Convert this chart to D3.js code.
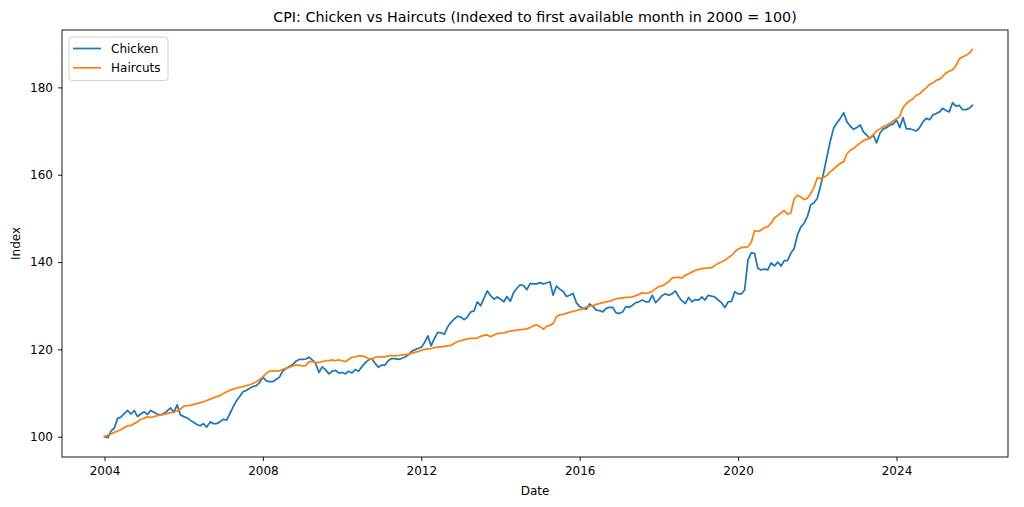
<!DOCTYPE html>
<html>
<head>
<meta charset="utf-8">
<script src="https://cdn.jsdelivr.net/npm/d3@7"></script>
<style>
  html, body { margin: 0; padding: 0; background: #fff; }
  svg { display: block; font-family: "DejaVu Sans", sans-serif; }
</style>
</head>
<body>
<svg id="chart" width="1024" height="507"></svg>
<script>
// ---- data (monthly, starting January 2004) ----
const startMonth = "2004-01";
const seriesNames = ["Chicken", "Haircuts"];
const chicken = [
100.0,99.8,101.3,102.0,104.2,104.5,105.3,106.0,105.2,106.0,104.6,105.2,
105.7,105.1,106.0,105.6,105.2,105.0,105.3,105.9,106.6,105.6,107.3,105.0,
104.6,104.3,103.8,103.3,102.8,102.5,103.0,102.2,103.4,103.0,103.0,103.4,
104.0,103.8,105.2,106.8,108.2,109.2,110.3,110.6,111.1,111.5,111.7,112.4,
113.6,112.8,112.6,112.6,113.1,113.6,115.0,115.6,116.1,116.5,117.3,117.7,
117.7,117.8,118.2,117.6,116.8,114.7,116.0,115.3,114.4,115.0,115.2,114.6,
114.7,114.4,115.0,114.6,115.4,115.0,116.0,116.9,117.6,117.9,116.8,115.9,
116.4,116.4,117.4,117.9,117.9,117.7,117.9,118.2,118.7,119.5,119.9,120.2,
120.5,121.6,123.1,120.8,122.5,123.9,123.8,123.5,125.2,126.2,127.0,127.6,
127.4,126.8,127.4,128.6,128.8,130.9,130.0,131.7,133.4,132.3,131.5,132.0,
131.5,130.9,132.1,131.0,133.0,134.0,134.8,134.6,133.7,135.1,135.0,135.0,
135.3,135.0,135.2,135.5,132.4,134.5,133.8,133.3,132.1,132.4,132.8,130.7,
129.8,129.4,129.2,130.4,129.9,129.0,128.9,128.6,129.4,129.6,129.6,128.4,
128.2,128.6,129.8,129.6,130.1,130.7,130.9,131.3,130.9,130.9,132.4,130.7,
131.5,132.4,132.7,132.4,132.7,133.4,132.1,131.1,130.5,131.9,130.9,131.4,
131.3,132.0,131.3,132.4,132.2,132.0,131.3,130.7,129.6,130.9,131.0,133.2,
132.7,132.7,133.6,140.5,142.1,142.0,138.6,138.2,138.4,138.2,139.8,139.1,
140.0,139.1,140.3,140.3,142.0,143.1,146.2,148.0,148.9,150.4,153.1,153.6,
154.6,157.6,160.6,164.3,167.8,170.7,171.9,172.9,174.2,172.1,171.1,170.4,
170.8,171.4,169.8,169.1,168.3,169.1,167.3,169.5,170.5,170.8,171.4,171.6,
172.5,170.8,173.1,170.5,170.5,170.3,170.0,170.8,172.1,172.9,172.6,173.7,
174.0,174.4,175.2,174.7,174.4,176.5,175.7,175.9,174.9,174.9,175.2,175.9
];
const haircuts = [
100.0,100.4,100.6,101.0,101.3,101.6,102.1,102.5,102.6,103.0,103.4,104.0,
104.2,104.6,104.4,104.6,104.8,105.0,105.1,105.3,105.5,105.6,105.9,106.3,
107.0,107.1,107.2,107.4,107.6,107.8,108.0,108.3,108.6,108.9,109.2,109.4,
109.9,110.3,110.6,110.9,111.1,111.3,111.5,111.7,111.9,112.2,112.6,113.1,
113.7,114.5,115.0,115.0,115.1,115.1,115.4,115.7,115.9,116.2,116.4,116.4,
116.2,116.3,117.2,117.2,117.0,117.0,117.2,117.4,117.4,117.6,117.4,117.6,
117.4,117.2,117.7,118.2,118.3,118.5,118.5,118.3,117.9,117.7,118.2,118.3,
118.3,118.3,118.5,118.6,118.5,118.6,118.7,118.8,118.9,119.1,119.3,119.5,
119.8,120.0,120.1,120.2,120.4,120.5,120.6,120.7,120.8,120.9,121.4,121.8,
122.0,122.2,122.4,122.5,122.5,122.6,123.0,123.2,123.3,122.9,123.3,123.6,
123.7,123.8,124.0,124.2,124.3,124.4,124.5,124.6,124.7,125.0,125.4,125.6,
125.2,124.6,125.3,125.5,125.9,127.5,127.9,128.0,128.3,128.5,128.7,128.9,
129.1,129.3,129.7,129.9,130.0,130.3,130.5,130.7,130.9,131.0,131.3,131.6,
131.7,131.8,131.9,131.9,132.0,132.3,132.6,133.0,132.8,133.0,133.3,133.9,
134.4,134.6,135.0,135.5,136.3,136.5,136.5,136.3,137.0,137.3,137.7,138.1,
138.3,138.5,138.6,138.6,138.7,139.2,139.7,140.0,140.4,141.0,141.5,142.3,
143.0,143.3,143.4,143.5,144.5,147.2,147.0,147.3,147.9,148.1,148.9,150.1,
150.7,151.3,151.8,151.0,151.2,154.5,155.3,154.9,154.3,154.6,155.7,157.1,
159.3,159.1,159.4,159.9,160.7,161.3,162.0,162.6,163.0,164.8,165.6,166.0,
166.7,167.3,167.8,168.1,168.5,169.2,170.0,170.5,171.0,171.3,171.7,172.3,
172.8,173.4,175.4,176.3,176.9,177.4,178.2,178.5,179.3,179.9,180.7,181.0,
181.6,181.9,182.5,183.3,183.7,184.0,184.9,186.5,187.0,187.3,187.8,188.7
];
const yTicks = [100, 120, 140, 160, 180];
const xTickYears = [2004, 2008, 2012, 2016, 2020, 2024];
const colors = ["#1f77b4", "#ff7f0e"];
const titleText = "CPI: Chicken vs Haircuts (Indexed to first available month in 2000 = 100)";
const xLabel = "Date";
const yLabel = "Index";

// ---- layout ----
const W = 1024, H = 507;
const plot = { left: 62, right: 1008, top: 30, bottom: 457 };

const parseMonth = d3.timeParse("%Y-%m");
const start = parseMonth(startMonth);
const dates = chicken.map((_, i) => d3.timeMonth.offset(start, i));
const data = seriesNames.map((name, k) => ({
  name,
  color: colors[k],
  values: (k === 0 ? chicken : haircuts).map((v, i) => ({ date: dates[i], value: v }))
}));

// x domain: anchor the first and last tick years to their positions in the frame
const tA = new Date(xTickYears[0], 0, 1), tB = new Date(xTickYears[xTickYears.length - 1], 0, 1);
const anchor = d3.scaleTime().domain([tA, tB]).range([104.5, 896.5]);
const x = d3.scaleTime()
  .domain([anchor.invert(plot.left), anchor.invert(plot.right)])
  .range([plot.left, plot.right]);
const allVals = chicken.concat(haircuts);
const vMin = d3.min(allVals), vMax = d3.max(allVals);
const vPad = (vMax - vMin) * 0.05;
const y = d3.scaleLinear()
  .domain([vMin - vPad, vMax + vPad])
  .range([plot.bottom, plot.top]);

const svg = d3.select("#chart");
svg.append("rect").attr("width", W).attr("height", H).attr("fill", "#fff");

// lines
const line = d3.line().x(d => x(d.date)).y(d => y(d.value));
svg.append("clipPath").attr("id", "clip").append("rect")
  .attr("x", plot.left).attr("y", plot.top)
  .attr("width", plot.right - plot.left).attr("height", plot.bottom - plot.top);
svg.append("g").attr("clip-path", "url(#clip)")
  .selectAll("path").data(data).join("path")
  .attr("d", d => line(d.values))
  .attr("fill", "none")
  .attr("stroke", d => d.color)
  .attr("stroke-width", 1.75)
  .attr("stroke-linejoin", "round")
  .attr("stroke-linecap", "square");

// axes
const xAxis = d3.axisBottom(x)
  .tickValues(xTickYears.map(yr => new Date(yr, 0, 1)))
  .tickFormat(d3.timeFormat("%Y"))
  .tickSizeOuter(0).tickSize(4).tickPadding(5);
const gx = svg.append("g").attr("transform", `translate(0,${plot.bottom})`).call(xAxis);
const yAxis = d3.axisLeft(y).tickValues(yTicks).tickSizeOuter(0).tickSize(4).tickPadding(5);
const gy = svg.append("g").attr("transform", `translate(${plot.left},0)`).call(yAxis);
[gx, gy].forEach(g => {
  g.select(".domain").remove();
  g.selectAll(".tick line").attr("stroke", "#000").attr("stroke-width", 0.9);
  g.selectAll(".tick text").attr("fill", "#000").style("font-size", "12px")
    .style("font-family", "'DejaVu Sans', sans-serif");
});

// frame
svg.append("rect")
  .attr("x", plot.left).attr("y", plot.top)
  .attr("width", plot.right - plot.left).attr("height", plot.bottom - plot.top)
  .attr("fill", "none").attr("stroke", "#000").attr("stroke-width", 0.9);

// title & labels
svg.append("text").attr("x", (plot.left + plot.right) / 2).attr("y", 22)
  .attr("text-anchor", "middle").style("font-size", "14.3px").attr("fill", "#000")
  .text(titleText);
svg.append("text").attr("x", (plot.left + plot.right) / 2).attr("y", 495)
  .attr("text-anchor", "middle").style("font-size", "12px").attr("fill", "#000")
  .text(xLabel);
svg.append("text").attr("transform", `translate(20,${(plot.top + plot.bottom) / 2}) rotate(-90)`)
  .attr("text-anchor", "middle").style("font-size", "12px").attr("fill", "#000")
  .text(yLabel);

// legend
const lg = svg.append("g").attr("transform", `translate(${plot.left + 7},${plot.top + 7})`);
lg.append("rect").attr("x", 0).attr("y", 0).attr("width", 99).attr("height", 43.5)
  .attr("rx", 3).attr("fill", "#fff").attr("fill-opacity", 0.8)
  .attr("stroke", "#cccccc").attr("stroke-width", 0.9);
data.forEach((d, i) => {
  const cy = 11.5 + i * 19.3;
  lg.append("line").attr("x1", 4).attr("x2", 32).attr("y1", cy).attr("y2", cy)
    .attr("stroke", d.color).attr("stroke-width", 1.75);
  lg.append("text").attr("x", 42).attr("y", cy + 4.3)
    .style("font-size", "12px").attr("fill", "#000").text(d.name);
});
</script>
</body>
</html>
